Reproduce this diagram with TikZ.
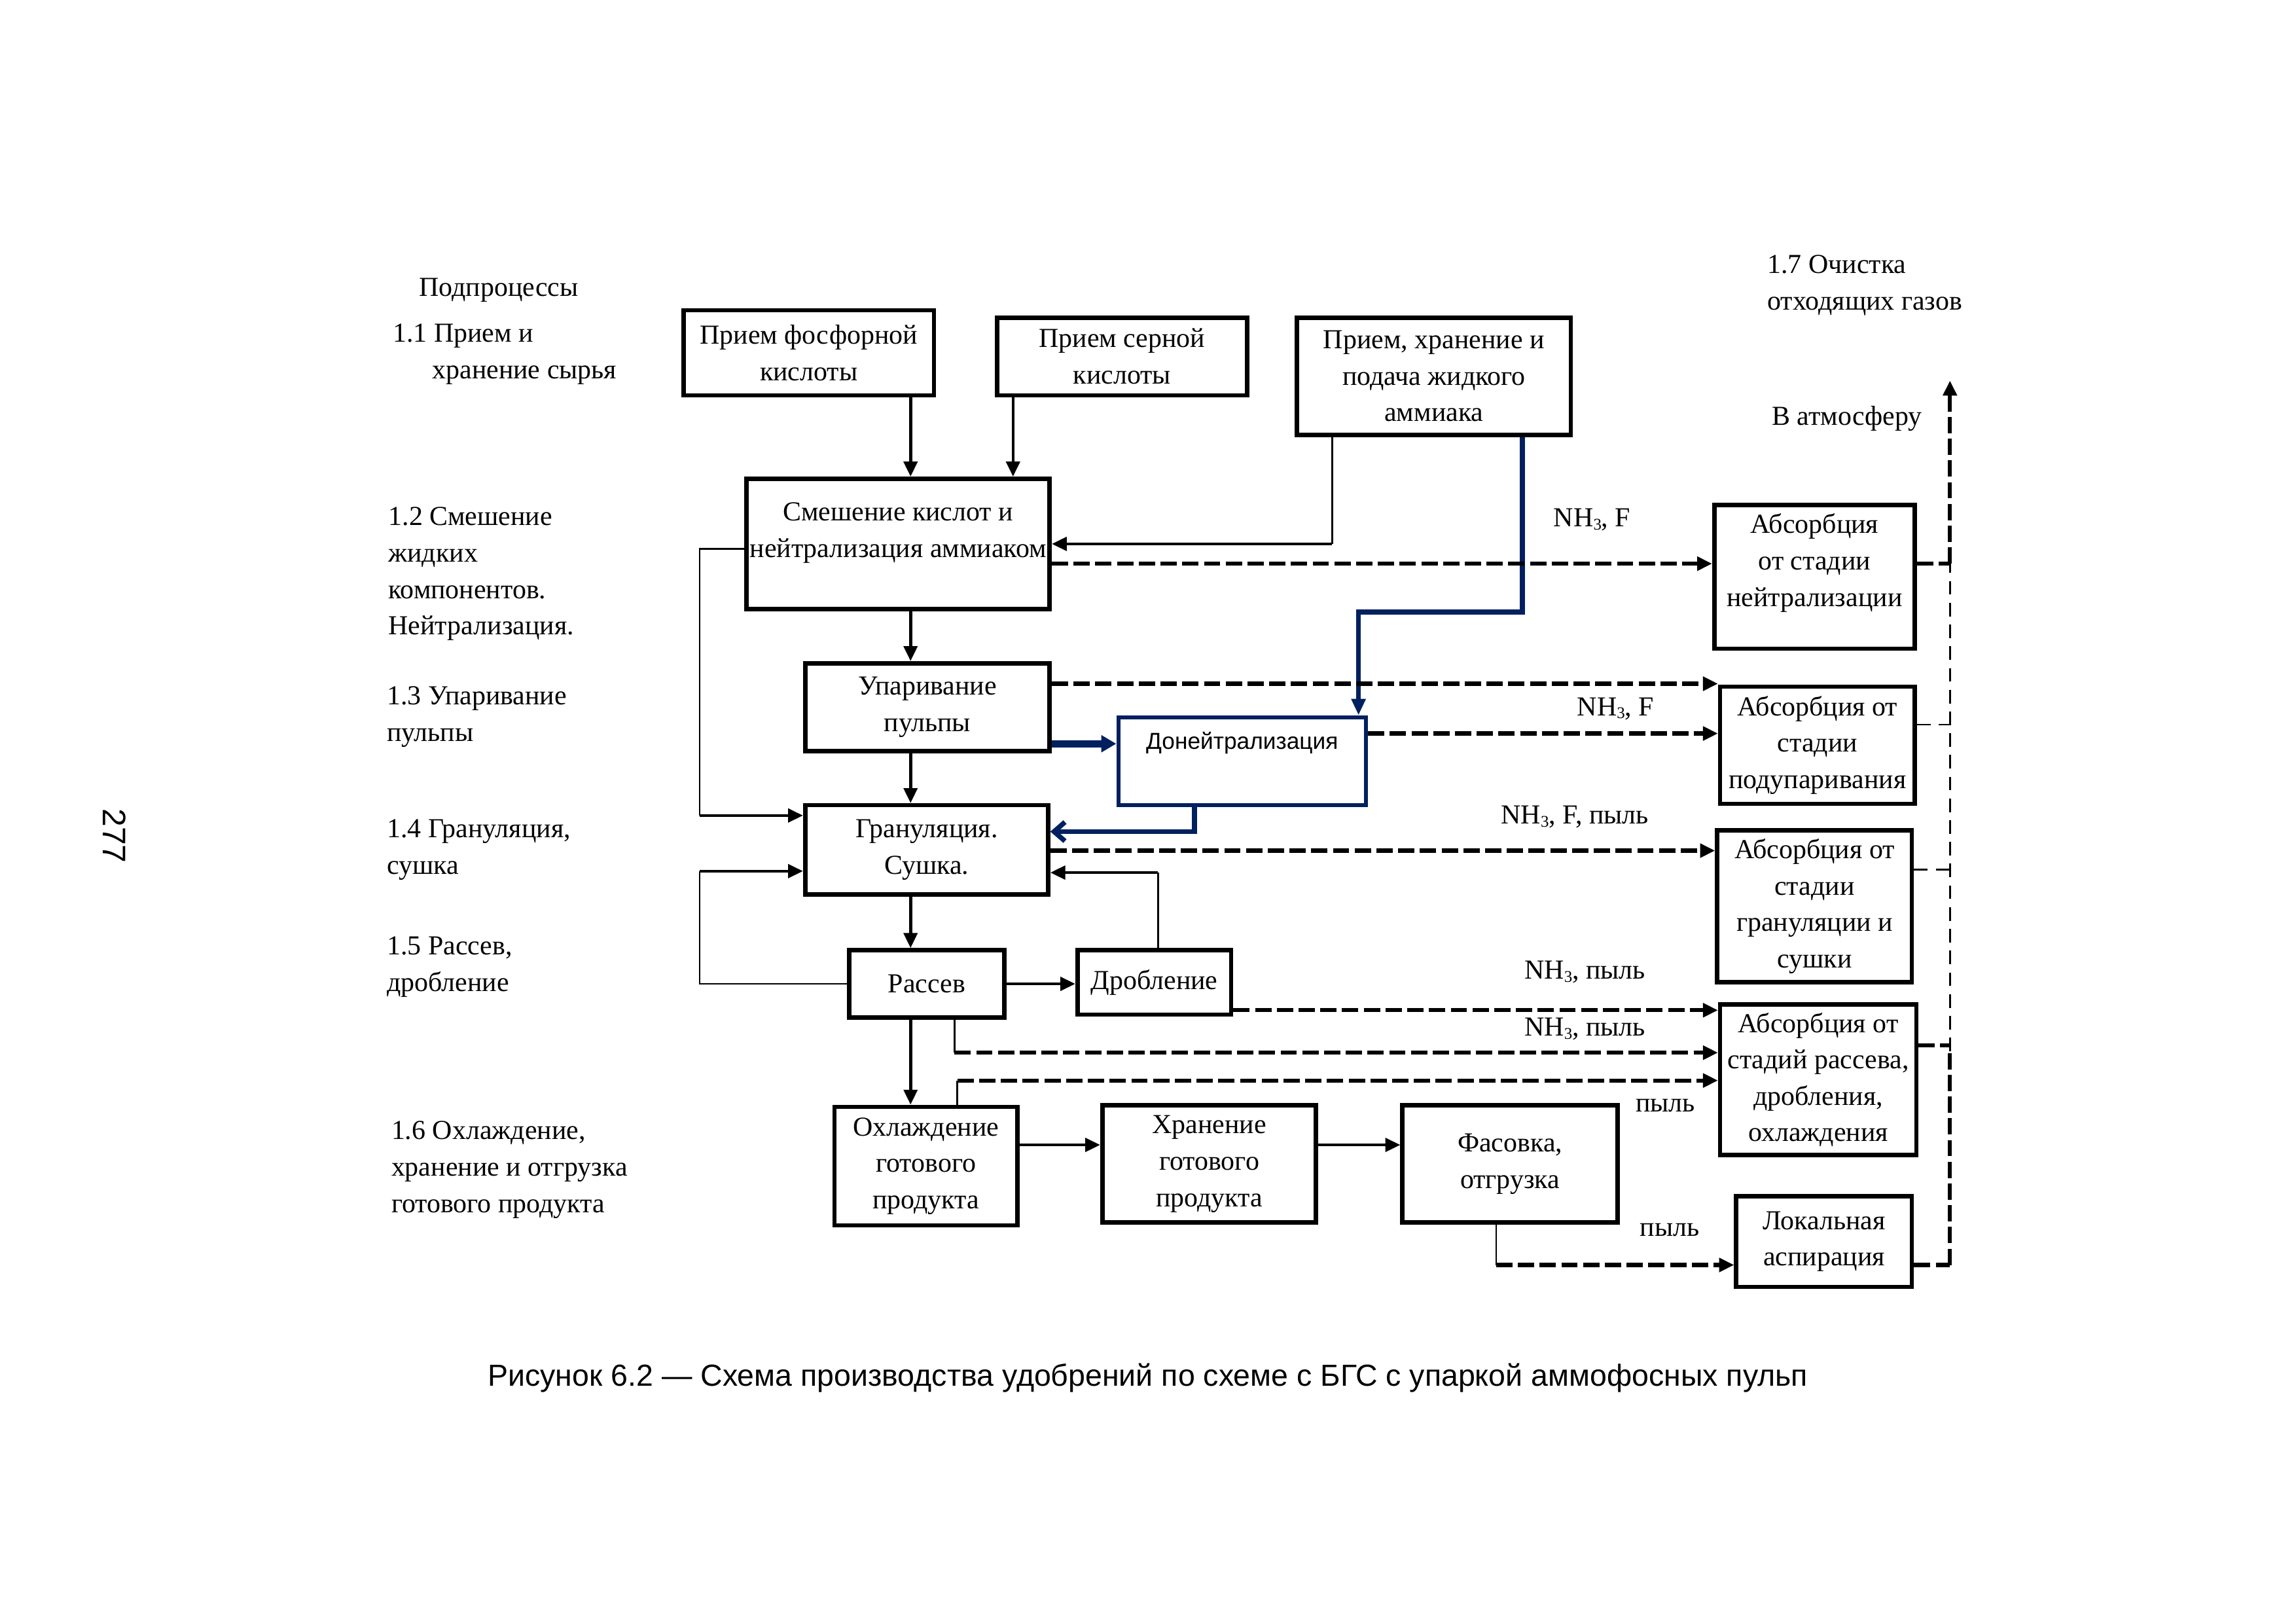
\documentclass[tikz,border=0pt]{standalone}
\usepackage{fontspec}
\setmainfont{Liberation Serif}
\newfontfamily\capfont{Liberation Sans}
\usetikzlibrary{arrows.meta}

\definecolor{navyline}{RGB}{0,32,96}
\newcommand\boxfont{\fontsize{10.1}{13.4}\selectfont}
\newcommand\nh{NH\raisebox{-0.25ex}{\fontsize{6}{6}\selectfont 3}}

\tikzset{
  box/.style={draw, line width=1.6pt, align=center, inner sep=0.5pt, font=\boxfont},
  sz/.style 2 args={minimum width=#1*0.018936cm, minimum height=#2*0.018936cm},
  flow/.style={line width=1.1pt, -{Triangle[length=5.5pt,width=5pt]}},
  back/.style={line width=0.65pt},
  gas/.style={line width=1.5pt, dash pattern=on 6pt off 2pt, -{Triangle[length=5.5pt,width=5pt]}},
  gasthin/.style={line width=0.6pt, dash pattern=on 5pt off 3pt},
  lbl/.style={inner sep=0pt, align=left, font=\boxfont},
}

\begin{document}
\begin{tikzpicture}[x=0.018936cm, y=-0.018936cm]
    \useasboundingbox (0,0) rectangle (1568.4,1109.2);

    % subprocesses
    \node[lbl, anchor=west] (s0) at (286,198) {Подпроцессы};
    \node[lbl, anchor=west] (s11) at (268,242) {1.1 Прием и\\\hspace*{0.51cm}хранение сырья};
    \node[lbl, anchor=west] (s12) at (265,392) {1.2 Смешение\\жидких\\компонентов.\\Нейтрализация.};
    \node[lbl, anchor=west] (s13) at (264,489.5) {1.3 Упаривание\\пульпы};
    \node[lbl, anchor=west] (s14) at (264,580.5) {1.4 Грануляция,\\сушка};
    \node[lbl, anchor=west] (s15) at (264,660.5) {1.5 Рассев,\\дробление};
    \node[lbl, anchor=west] (s16) at (267,799) {1.6 Охлаждение,\\хранение и отгрузка\\готового продукта};
    \node[lbl, anchor=west] (s17) at (1207,195) {1.7 Очистка\\отходящих газов};
    \node[lbl, anchor=west] (atmtext) at (1210,286) {В атмосферу};

    % process boxes
    \node[box, sz={171}{58}] (phos) at (552.5,241) {Прием фосфорной\\кислоты};
    \node[box, sz={171}{53}] (sulf) at (766.5,243.5) {Прием серной\\кислоты};
    \node[box, sz={187}{80}] (amm) at (979.5,257) {Прием, хранение и\\подача жидкого\\аммиака};
    \node[box, sz={207}{89}] (mix) at (613.5,371.5) {Смешение кислот и\\нейтрализация аммиаком\\[-3pt]\mbox{}};
    \node[box, sz={167}{60}] (evap) at (633.5,483) {Упаривание\\пульпы};
    \node[box, draw=navyline, sz={169}{60}, font=\capfont\fontsize{8.5}{13.4}\selectfont] (doneut) at (848.5,520) {Донейтрализация\\[2pt]\mbox{}};
    \node[box, sz={166}{61}] (gran) at (633,580.5) {Грануляция.\\Сушка.};
    \node[box, sz={106}{46}] (sieve) at (633,672) {Рассев};
    \node[box, sz={105}{44}] (crush) at (788.5,671) {Дробление};
    \node[box, sz={125}{81}] (cool) at (632.5,796.5) {Охлаждение\\готового\\продукта};
    \node[box, sz={146}{80}] (store) at (826,795) {Хранение\\готового\\продукта};
    \node[box, sz={147}{80}] (pack) at (1031.5,795) {Фасовка,\\отгрузка};

    % absorbers
    \node[box, sz={137}{98}] (abs1) at (1239.5,394) {Абсорбция\\от стадии\\нейтрализации\\[-1pt]\mbox{}};
    \node[box, sz={133}{80}] (abs2) at (1241.5,509) {Абсорбция от\\стадии\\подупаривания};
    \node[box, sz={133}{104}] (abs3) at (1239.5,619) {Абсорбция от\\стадии\\грануляции и\\сушки};
    \node[box, sz={134}{103}] (abs4) at (1242,737.5) {Абсорбция от\\стадий рассева,\\дробления,\\охлаждения};
    \node[box, sz={120}{62}] (asp) at (1246,848) {Локальная\\аспирация};

    % helper points
    \coordinate (spine) at (622,0);
    \coordinate (sx) at (692,0);
    \coordinate (ax) at (910,0);
    \coordinate (bx) at (1040,0);
    \coordinate (nv) at (928,418);
    \coordinate (dn) at (816,568);
    \coordinate (cr) at (791,596);
    \coordinate (lx1) at (478,375);
    \coordinate (lx2) at (478,557);
    \coordinate (lx3) at (478,595);
    \coordinate (rs) at (652,719);
    \coordinate (rc) at (654,738);
    \coordinate (rp) at (1022,864);
    \coordinate (cx) at (1332,0);
    \coordinate (atm) at (1332,260);

    % main flow
    \draw[flow] (phos.south -| spine) -- (mix.north -| spine);
    \draw[flow] (sulf.south -| sx) -- (mix.north -| sx);
    \draw[back] (amm.south -| ax) -- (ax |- mix.east);
    \draw[flow] (ax |- mix.east) -- (mix.east);
    \draw[flow] (mix.south -| spine) -- (evap.north -| spine);
    \draw[flow] (evap.south -| spine) -- (gran.north -| spine);
    \draw[flow] (gran.south -| spine) -- (sieve.north -| spine);
    \draw[flow] (sieve.south -| spine) -- (cool.north -| spine);
    \draw[flow] (sieve.east) -- (sieve.east -| crush.west);
    \draw[flow] (cool.east |- 0,782) -- (store.west |- 0,782);
    \draw[flow] (store.east |- 0,782) -- (pack.west |- 0,782);

    % recycles
    \draw[back] (mix.west |- lx1) -| (lx2);
    \draw[flow] (lx2) -- (gran.west |- lx2);
    \draw[back] (sieve.west) -| (lx3);
    \draw[flow] (lx3) -- (gran.west |- lx3);
    \draw[back] (crush.north -| cr) -- (cr);
    \draw[flow] (cr) -- (gran.east |- cr);

    % ammonia to post-neutralisation
    \draw[navyline, line width=1.8pt, -{Triangle[length=6pt,width=5pt]}] (amm.south -| bx) |- (nv) -- (doneut.north -| nv);
    \draw[navyline, line width=2.6pt, -{Triangle[length=5.5pt,width=6pt]}] (evap.east |- 0,508) -- (doneut.west |- 0,508);
    \draw[navyline, line width=1.8pt, -{Straight Barb[length=4pt,width=7pt]}] (doneut.south -| dn) |- (gran.east |- dn);

    % off-gases
    \draw[gas] (mix.east |- 0,385) -- (abs1.west |- 0,385);
    \draw[gas] (evap.east |- 0,467) -- (abs2.west |- 0,467);
    \draw[gas] (doneut.east |- 0,501) -- (abs2.west |- 0,501);
    \draw[gas] (gran.east |- 0,581) -- (abs3.west |- 0,581);
    \draw[gas] (crush.east |- 0,690) -- (abs4.west |- 0,690);
    \draw[back] (sieve.south -| rs) -- (rs);
    \draw[gas] (rs) -- (abs4.west |- rs);
    \draw[back] (cool.north -| rc) -- (rc);
    \draw[gas] (rc) -- (abs4.west |- rc);
    \draw[back] (pack.south -| rp) -- (rp);
    \draw[gas] (rp) -- (asp.west |- rp);

    \node[lbl, anchor=west] (g1) at (1061,355) {\nh, F};
    \node[lbl, anchor=west] (g2) at (1077,484) {\nh, F};
    \node[lbl, anchor=west] (g3) at (1025,558) {\nh, F, пыль};
    \node[lbl, anchor=west] (g4) at (1041,664) {\nh, пыль};
    \node[lbl, anchor=west] (g5) at (1041,703) {\nh, пыль};
    \node[lbl, anchor=west] (g6) at (1117,755) {пыль};
    \node[lbl, anchor=west] (g7) at (1120,840) {пыль};

    % to atmosphere
    \draw[gas, -] (abs1.east |- 0,385) -- (cx |- 0,385);
    \draw[gasthin] (abs2.east |- 0,495) -- (cx |- 0,495);
    \draw[gasthin] (abs3.east |- 0,594) -- (cx |- 0,594);
    \draw[gas, -] (abs4.east |- 0,714) -- (cx |- 0,714);
    \draw[gas, -] (asp.east |- 0,864) -- (cx |- 0,864);
    \draw[gas, -] (cx |- 0,864) -- (cx |- 0,718);
    \draw[gasthin] (cx |- 0,718) -- (cx |- 0,385);
    \draw[gas] (cx |- 0,385) -- (atm);

    \node[inner sep=0pt, font=\capfont\fontsize{11.2}{14}\selectfont] (cap) at (784,941) {Рисунок 6.2 — Схема производства удобрений по схеме с БГС с упаркой аммофосных пульп};
    \node[inner sep=0pt, rotate=-90, font=\capfont\fontsize{12}{14}\selectfont] (page) at (78,571) {277};
\end{tikzpicture}
\end{document}
